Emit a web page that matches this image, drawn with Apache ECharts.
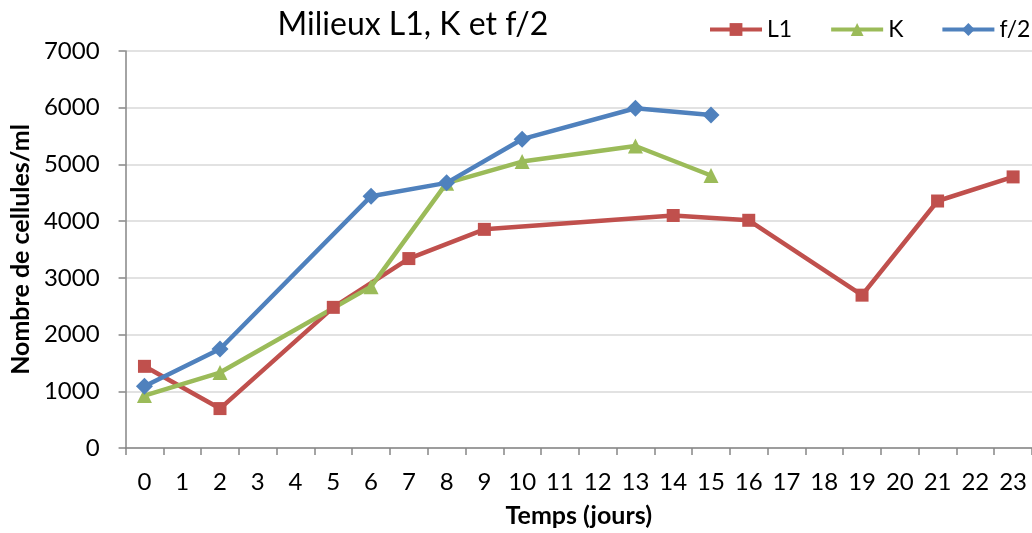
<!DOCTYPE html>
<html>
<head>
<meta charset="utf-8">
<script src="https://cdn.jsdelivr.net/npm/echarts@6/dist/echarts.min.js"></script>
<style>
  html, body { margin: 0; padding: 0; background: #fff; }
  #chart { width: 1032px; height: 533px; }
</style>
</head>
<body>
<div id="chart"></div>
<script>
// Days of culture (x categories)
const days = ['0','1','2','3','4','5','6','7','8','9','10','11','12','13','14','15','16','17','18','19','20','21','22','23'];

// Cell counts (cells/ml); null = no measurement that day
const l1 = [1440, null, 695, null, null, 2480, null, 3340, null, 3855, null, null, null, null, 4100, null, 4015, null, null, 2695, null, 4355, null, 4780];
const k  = [925, null, 1330, null, null, null, 2845, null, 4670, null, 5050, null, null, 5325, null, 4805, null, null, null, null, null, null, null, null];
const f2 = [1090, null, 1745, null, null, null, 4440, null, 4675, null, 5445, null, null, 5990, null, 5870, null, null, null, null, null, null, null, null];

const yTicks = [0, 1000, 2000, 3000, 4000, 5000, 6000, 7000];

const FONT = 'Lato, "Liberation Sans", sans-serif';

const chart = echarts.init(document.getElementById('chart'), null, { renderer: 'canvas' });

function lineSeries(name, data, color, symbol, size) {
  return {
    name: name,
    type: 'line',
    data: data,
    connectNulls: true,
    symbol: symbol,
    symbolSize: size,
    showAllSymbol: true,
    lineStyle: { color: color, width: 4.5 },
    itemStyle: { color: color },
    emphasis: { disabled: true },
    animation: false
  };
}

chart.setOption({
  backgroundColor: '#ffffff',
  textStyle: { fontFamily: FONT },
  title: {
    text: 'Milieux L1, K et f/2',
    left: 408,
    top: 4,
    textAlign: 'center',
    textStyle: { fontFamily: FONT, fontSize: 32, fontWeight: 'normal', color: '#000' }
  },
  legend: {
    top: 18,
    left: 708,
    padding: 0,
    width: 330,
    orient: 'horizontal',
    itemWidth: 52,
    itemHeight: 16,
    itemGap: 37,
    lineStyle: { width: 4 },
    textStyle: { fontFamily: FONT, fontSize: 23, color: '#000' },
    data: ['L1', 'K', 'f/2']
  },
  grid: { left: 124, right: 0, top: 51, bottom: 83.5, containLabel: false },
  xAxis: {
    type: 'category',
    data: days,
    boundaryGap: true,
    name: 'Temps (jours)',
    nameLocation: 'middle',
    nameGap: 55,
    nameTextStyle: { fontFamily: FONT, fontSize: 25, fontWeight: 'bold', color: '#000' },
    axisLine: { lineStyle: { color: '#868686', width: 1.5 } },
    axisTick: { show: true, alignWithLabel: false, interval: 0, length: 7, lineStyle: { color: '#868686', width: 1.5 } },
    axisLabel: { interval: 0, margin: 22, fontFamily: FONT, fontSize: 24, color: '#000' },
    splitLine: { show: false }
  },
  yAxis: {
    type: 'value',
    min: yTicks[0],
    max: yTicks[yTicks.length - 1],
    interval: 1000,
    name: 'Nombre de cellules/ml',
    nameLocation: 'middle',
    nameGap: 90,
    nameRotate: 90,
    nameTextStyle: { fontFamily: FONT, fontSize: 25, fontWeight: 'bold', color: '#000' },
    axisLine: { show: true, lineStyle: { color: '#868686', width: 1.5 } },
    axisTick: { show: true, length: 7, lineStyle: { color: '#868686', width: 1.5 } },
    axisLabel: { margin: 26, fontFamily: FONT, fontSize: 24, color: '#000', formatter: function (v) { return String(v); } },
    splitLine: { show: true, lineStyle: { color: '#d9d9d9', width: 1.5 } }
  },
  series: [
    lineSeries('L1', l1, '#C0504D', 'rect', 13),
    lineSeries('K', k, '#9BBB59', 'triangle', 15),
    lineSeries('f/2', f2, '#4F81BD', 'diamond', 17)
  ]
});
</script>
</body>
</html>
